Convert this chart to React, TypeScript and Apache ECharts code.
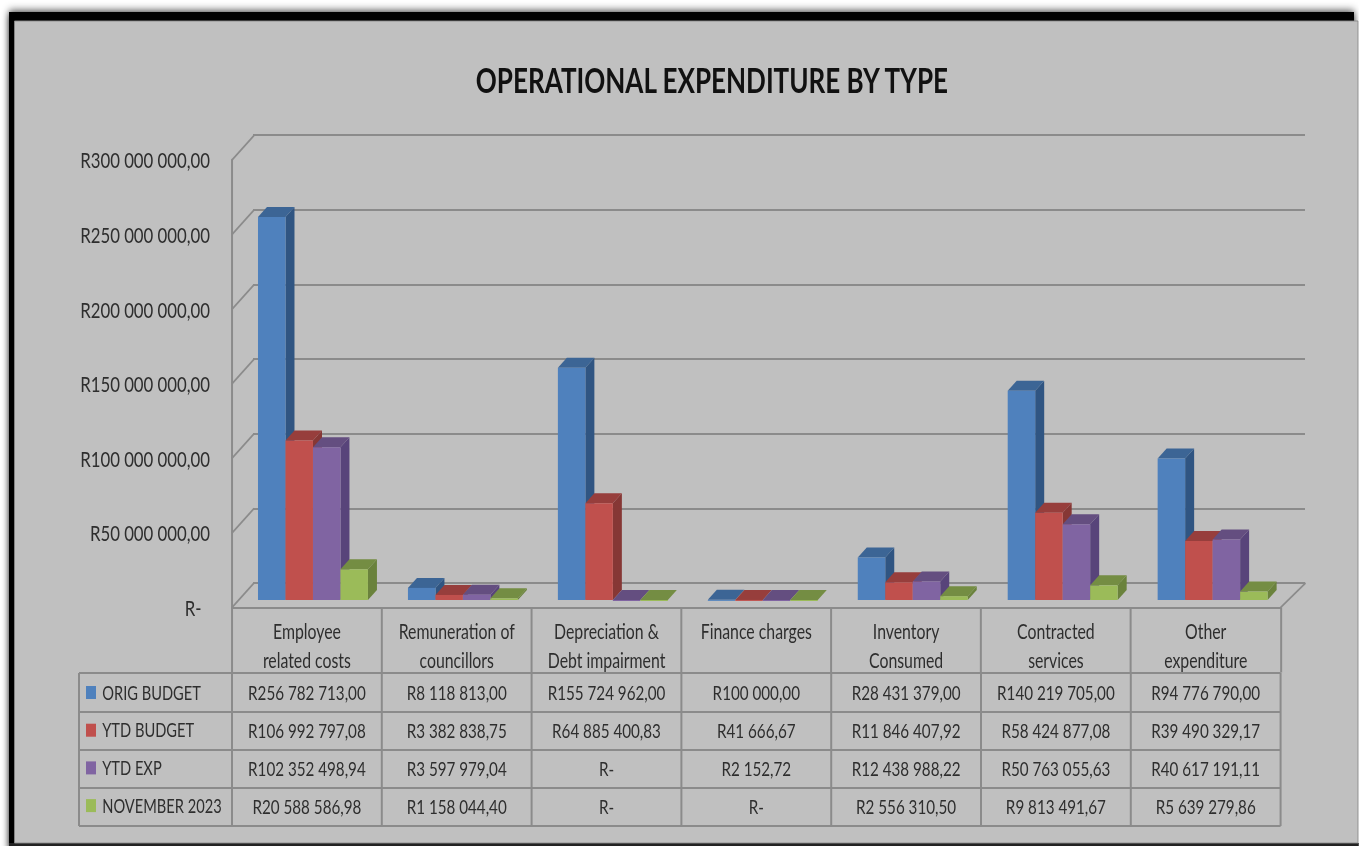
import React, { useEffect, useRef } from "react";
import * as echarts from "echarts";

const TITLE = "OPERATIONAL EXPENDITURE BY TYPE";
const FONT = "Lato, 'Liberation Sans', sans-serif";

const categories = [
  "Employee\nrelated costs",
  "Remuneration of\ncouncillors",
  "Depreciation &\nDebt impairment",
  "Finance charges",
  "Inventory\nConsumed",
  "Contracted\nservices",
  "Other\nexpenditure",
];
const origBudget = [256782713.0, 8118813.0, 155724962.0, 100000.0, 28431379.0, 140219705.0, 94776790.0];
const ytdBudget = [106992797.08, 3382838.75, 64885400.83, 41666.67, 11846407.92, 58424877.08, 39490329.17];
const ytdExp = [102352498.94, 3597979.04, 0, 2152.72, 12438988.22, 50763055.63, 40617191.11];
const november2023 = [20588586.98, 1158044.4, 0, 0, 2556310.5, 9813491.67, 5639279.86];
const yTicks = [0, 50000000, 100000000, 150000000, 200000000, 250000000, 300000000];

const seriesNames = ["ORIG BUDGET", "YTD BUDGET", "YTD EXP", "NOVEMBER 2023"];
const seriesValues = [origBudget, ytdBudget, ytdExp, november2023];
const frontColors = ["#4f81bd", "#c0504d", "#8064a2", "#9bbb59"];
const topColors = ["#3c6595", "#973e3c", "#644e80", "#748d43"];
const sideColors = ["#305582", "#863735", "#58447a", "#6a823c"];

const formatRand = (v: number) => {
  if (!v) return "R-";
  const [i, d] = v.toFixed(2).split(".");
  return "R" + i.replace(/\B(?=(\d{3})+$)/g, " ") + "," + d;
};

// The reference's text is horizontally condensed: the whole chart is laid out wider and squeezed by CSS.
const SX = 0.78;
const X = (x: number) => x / SX;
const FONT_SIZE = 19.5;
const TEXT = "#2e2e2e";
const LINE = "#8b8b8b";
const PLOT_L = 232;
const COL_W = 149.8;
const PLOT_R = PLOT_L + COL_W * 7;
const ROW_Y = [673, 712, 750, 788, 826];
const TABLE_L = 79;
const DEPTH_X = 9;
const DEPTH_Y = 10;
const WALL_X = 22;
const WALL_Y = 24.5;

function tableGraphics() {
  const els: any[] = [
    { type: "rect", z: -20, silent: true, shape: { x: X(9), y: 12, width: X(1345), height: 840 }, style: { fill: "#000", shadowBlur: 10, shadowColor: "rgba(0,0,0,0.95)" } },
    { type: "rect", z: -20, silent: true, shape: { x: X(9), y: 843, width: X(1350), height: 10 }, style: { fill: "#222" } },
    { type: "rect", z: -19, silent: true, shape: { x: X(14.5), y: 21, width: X(1343.5), height: 822 }, style: { fill: "#c0c0c0", stroke: "#8a8a8a", lineWidth: 1 } },
  ];
  ROW_Y.forEach((y) => {
    els.push({ type: "line", z: 5, silent: true, shape: { x1: X(TABLE_L), y1: y, x2: X(PLOT_R), y2: y }, style: { stroke: LINE, lineWidth: 2 } });
  });
  const verts = [TABLE_L, ...categories.map((_, i) => PLOT_L + COL_W * i), PLOT_R];
  verts.forEach((x) => {
    els.push({ type: "line", z: 5, silent: true, shape: { x1: X(x), y1: ROW_Y[0], x2: X(x), y2: ROW_Y[4] }, style: { stroke: LINE, lineWidth: 2 / SX } });
  });
  seriesValues.forEach((vals, r) => {
    vals.forEach((v, c) => {
      els.push({
        type: "text",
        z: 6,
        silent: true,
        x: X(PLOT_L + COL_W * (c + 0.5)),
        y: (ROW_Y[r] + ROW_Y[r + 1]) / 2,
        style: { text: formatRand(v), font: `${FONT_SIZE}px ${FONT}`, fill: TEXT, textAlign: "center", textVerticalAlign: "middle" },
      });
    });
  });
  return els;
}

function wallItem(params: any, api: any) {
  const cs = params.coordSys;
  const y = api.coord([0, api.value(1)])[1];
  const children: any[] = [
    { type: "line", shape: { x1: cs.x, y1: y, x2: cs.x + X(WALL_X), y2: y - WALL_Y }, style: { stroke: LINE, lineWidth: 2 } },
  ];
  if (api.value(1) === 0) {
    children.push({ type: "line", shape: { x1: cs.x + cs.width, y1: y, x2: cs.x + cs.width + X(WALL_X + 3), y2: y - WALL_Y }, style: { stroke: LINE, lineWidth: 2 } });
  }
  return { type: "group", children };
}

function barItem(params: any, api: any) {
  const s = params.seriesIndex - 1;
  const band = api.size([1, 0])[0];
  const barW = (band * 110) / 150 / 4;
  const top = api.coord([api.value(0), api.value(1)]);
  const base = api.coord([api.value(0), 0]);
  const x0 = top[0] - 2 * barW + s * barW;
  const x1 = x0 + barW;
  const y0 = top[1];
  const y1 = base[1];
  const dx = X(DEPTH_X);
  return {
    type: "group",
    children: [
      { type: "polygon", shape: { points: [[x1, y0], [x1 + dx, y0 - DEPTH_Y], [x1 + dx, y1 - DEPTH_Y], [x1, y1]] }, style: { fill: sideColors[s] } },
      { type: "polygon", shape: { points: [[x0, y0], [x1, y0], [x1 + dx, y0 - DEPTH_Y], [x0 + dx, y0 - DEPTH_Y]] }, style: { fill: topColors[s] } },
      { type: "rect", shape: { x: x0, y: y0, width: barW, height: Math.max(y1 - y0, 1) }, style: { fill: frontColors[s] } },
    ],
  };
}

export default function App() {
  const ref = useRef<HTMLDivElement>(null);
  useEffect(() => {
    const chart = echarts.init(ref.current!, undefined, { renderer: "svg" });
    const grids = [
      { left: X(PLOT_L), top: 160, width: X(COL_W * 7), height: 447.5 },
      { left: X(238), top: 152.5, width: X(1049.6), height: 447.5 },
      { left: X(253), top: 135, width: X(1052), height: 448 },
    ];
    chart.setOption({
      animation: false,
      backgroundColor: "#ffffff",
      title: {
        text: TITLE,
        left: X(708),
        top: 58,
        textAlign: "center",
        textStyle: { fontFamily: FONT, fontWeight: "bold", fontSize: 33.4, color: "#111" },
      },
      legend: {
        data: seriesNames,
        orient: "vertical",
        left: X(86),
        top: 683,
        icon: "rect",
        itemWidth: X(10),
        itemHeight: 13,
        itemGap: 18.7,
        padding: 0,
        selectedMode: false,
        textStyle: { fontFamily: FONT, fontSize: 18.8, color: TEXT, padding: [0, 0, 0, 3] },
      },
      grid: grids,
      xAxis: [
        {
          gridIndex: 0,
          type: "category",
          data: categories,
          axisLine: { show: true, lineStyle: { color: LINE, width: 2 } },
          axisTick: { show: true, length: 65, alignWithLabel: false, lineStyle: { color: LINE, width: 2 / SX } },
          axisLabel: { interval: 0, margin: 9, lineHeight: 29, fontFamily: FONT, fontSize: 20.3, color: TEXT, verticalAlign: "top" },
        },
        { gridIndex: 1, type: "category", data: categories, show: false },
        { gridIndex: 2, type: "category", data: categories, show: false },
      ],
      yAxis: [
        {
          gridIndex: 0,
          type: "value",
          min: 0,
          max: 300000000,
          interval: 50000000,
          axisLine: { show: true, lineStyle: { color: LINE, width: 2 / SX } },
          axisTick: { show: false },
          splitLine: { show: false },
          axisLabel: {
            margin: X(22),
            padding: [7, 0, 0, 0],
            fontFamily: FONT,
            fontSize: 21.5,
            color: TEXT,
            formatter: (v: number) => (v ? formatRand(v) : "R-\u00a0\u00a0"),
          },
        },
        { gridIndex: 1, type: "value", min: 0, max: 300000000, interval: 50000000, show: false },
        {
          gridIndex: 2,
          type: "value",
          min: 0,
          max: 300000000,
          interval: 50000000,
          axisLine: { show: false },
          axisTick: { show: false },
          axisLabel: { show: false },
          splitLine: { show: true, lineStyle: { color: LINE, width: 2 } },
        },
      ],
      series: [
        {
          type: "custom",
          name: "walls",
          xAxisIndex: 0,
          yAxisIndex: 0,
          silent: true,
          z: 1,
          renderItem: wallItem,
          data: yTicks.map((t) => [0, t]),
          encode: { x: 0, y: 1 },
        },
        ...seriesNames.map((name, s) => ({
          type: "custom",
          name,
          xAxisIndex: 1,
          yAxisIndex: 1,
          z: 3,
          itemStyle: { color: frontColors[s] },
          renderItem: barItem,
          data: seriesValues[s].map((v, i) => [i, v]),
          encode: { x: 0, y: 1 },
        })),
      ],
      graphic: { elements: tableGraphics() },
    });
    return () => chart.dispose();
  }, []);
  return (
    <div style={{ position: "fixed", left: 0, top: 0, width: 1359, height: 846, overflow: "hidden", filter: "blur(0.7px)" }}>
      <div
        ref={ref}
        style={{ width: X(1359), height: 846, transform: `scaleX(${SX})`, transformOrigin: "0 0" }}
      />
    </div>
  );
}
